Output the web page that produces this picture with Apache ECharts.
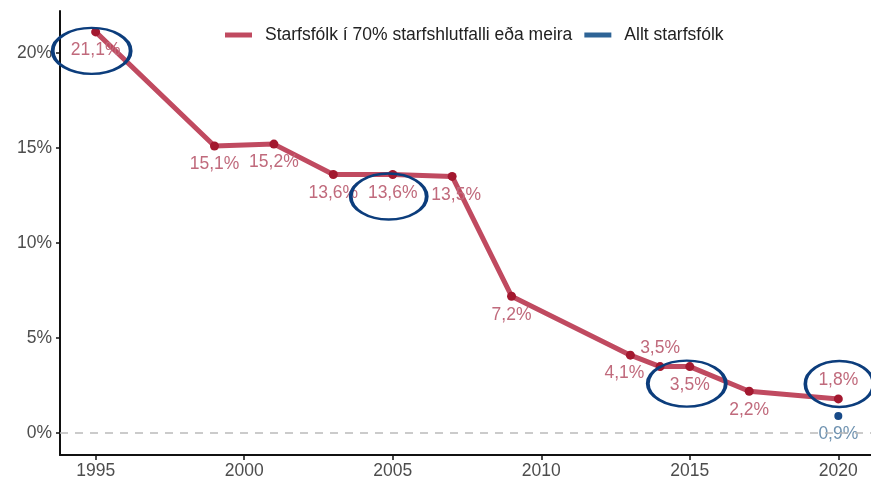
<!DOCTYPE html>
<html>
<head>
<meta charset="utf-8">
<script src="https://cdn.jsdelivr.net/npm/echarts@6/dist/echarts.min.js"></script>
<style>html,body{margin:0;padding:0;background:#fff}#c{width:871px;height:481px}</style>
</head>
<body>
<div id="c"></div>
<script>
const years = [1995, 1999, 2001, 2003, 2005, 2007, 2009, 2013, 2014, 2015, 2017, 2020];
const fullTime = [21.1, 15.1, 15.2, 13.6, 13.6, 13.5, 7.2, 4.1, 3.5, 3.5, 2.2, 1.8];
const allYears = [2020];
const allStaff = [0.9];
const xTicks = [1995, 2000, 2005, 2010, 2015, 2020];
const yTicks = [0, 5, 10, 15, 20];
const seriesNames = ['Starfsfólk í 70% starfshlutfalli eða meira', 'Allt starfsfólk'];
const circled = [1995, 2005, 2015, 2020];

const FS = 17.5;
const fmt = v => String(v).replace('.', ',') + '%';
const labelTweak = {2014: {position: 'top', offset: [0, 0]}, 2020: {position: 'top'}, 2013: {offset: [-6, 0]}, 2007: {offset: [4, 0]}};
const ellipseStyle = {
  1995: {size: [78, 46], off: [-4, 19]},
  2005: {size: [76, 46], off: [-4, 22]},
  2015: {size: [78, 46], off: [-3, 17]},
  2020: {size: [68, 46], off: [1, -15]}
};

const redData = years.map((y, i) => {
  const d = {value: [y, fullTime[i]]};
  if (labelTweak[y]) d.label = Object.assign({}, labelTweak[y]);
  return d;
});

const markPts = circled.map(y => {
  const i = years.indexOf(y);
  const s = ellipseStyle[y];
  return {coord: [y, fullTime[i]], symbol: 'circle', symbolSize: s.size, symbolOffset: s.off};
});

const chart = echarts.init(document.getElementById('c'), null, {renderer: 'canvas'});
chart.setOption({
  animation: false,
  textStyle: {fontFamily: 'Liberation Sans, Arial, sans-serif'},
  legend: {
    top: 21, left: 220, itemGap: 12, itemWidth: 27, itemHeight: 5,
    textStyle: {fontSize: FS, color: '#222', padding: [0, 0, 0, 8]},
    icon: 'rect',
    data: seriesNames.map((n, k) => ({name: n, itemStyle: {color: k ? '#2e6496' : '#c04a60'}}))
  },
  grid: {left: 60, right: 0, top: 11, bottom: 26, containLabel: false},
  xAxis: {
    type: 'value', min: 1993.8, max: 2021.1,
    axisLine: {onZero: false, lineStyle: {color: '#111', width: 2}},
    axisTick: {customValues: xTicks, length: 5, lineStyle: {color: '#111', width: 1.5}},
    axisLabel: {customValues: xTicks, fontSize: FS, color: '#4d4d4d', margin: 7, formatter: v => String(v)},
    splitLine: {show: false}
  },
  yAxis: {
    type: 'value', min: -1.15, max: 22.2,
    axisLine: {show: true, lineStyle: {color: '#111', width: 2}},
    axisTick: {show: true, customValues: yTicks, length: 4, lineStyle: {color: '#111', width: 1.5}},
    axisLabel: {customValues: yTicks, fontSize: FS, color: '#4d4d4d', margin: 8, padding: [0, 0, 5, 0], formatter: v => v + '%'},
    splitLine: {show: false}
  },
  series: [
    {
      name: seriesNames[0], type: 'line', data: redData,
      lineStyle: {color: '#c04a60', width: 5},
      itemStyle: {color: '#a3182f'},
      symbol: 'circle', symbolSize: 9,
      label: {show: true, position: 'bottom', distance: 5, fontSize: FS, color: '#c06a7c', formatter: p => fmt(p.value[1])},
      markLine: {
        silent: true, symbol: 'none', label: {show: false},
        lineStyle: {color: '#bbb', type: [8, 7], width: 1.5},
        data: [{yAxis: 0}]
      },
      markPoint: {
        silent: true, label: {show: false},
        itemStyle: {color: 'rgba(0,0,0,0)', borderColor: '#0c3d7c', borderWidth: 3},
        data: markPts
      },
      z: 3
    },
    {
      name: seriesNames[1], type: 'line', data: allYears.map((y, i) => [y, allStaff[i]]),
      lineStyle: {color: '#2e6496', width: 5},
      itemStyle: {color: '#174a88'},
      symbol: 'circle', symbolSize: 8,
      label: {show: true, position: 'bottom', distance: 5, fontSize: FS, color: '#6f92b0', formatter: p => fmt(p.value[1])},
      z: 2
    }
  ]
});
</script>
</body>
</html>
